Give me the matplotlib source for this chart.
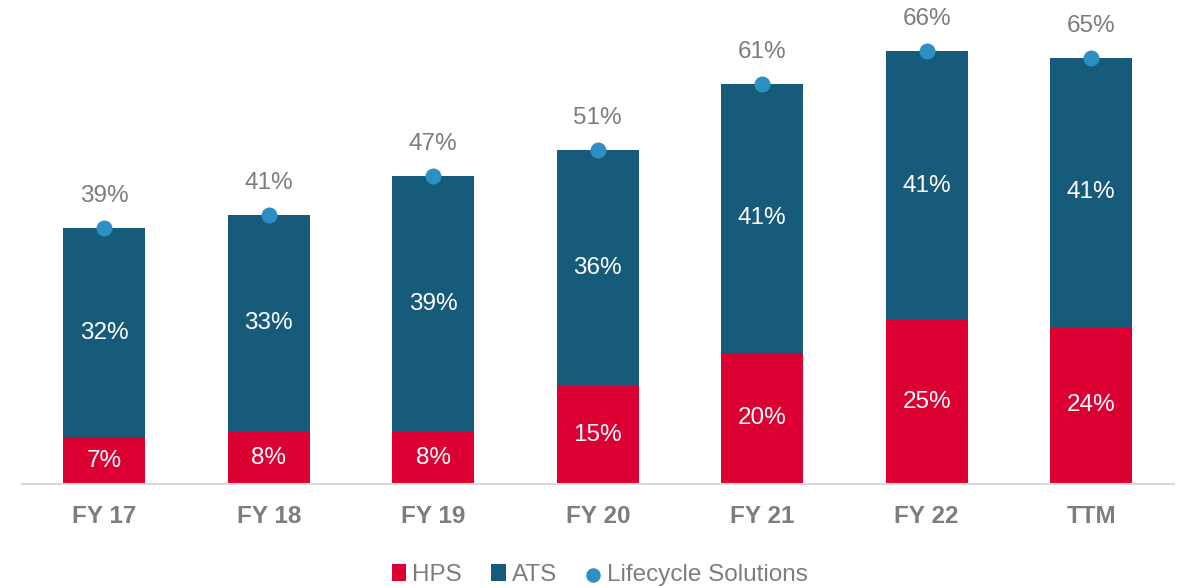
import numpy as np
import matplotlib.pyplot as plt

# data
years = ['FY 17', 'FY 18', 'FY 19', 'FY 20', 'FY 21', 'FY 22', 'TTM']
hps = [7, 8, 8, 15, 20, 25, 24]
ats = [32, 33, 39, 36, 41, 41, 41]
lifecycle = [39, 41, 47, 51, 61, 66, 65]

red = '#DC0032'
blue = '#175B7A'
dot = '#2E8FC4'
gray = '#7A7F78'

plt.rcParams['font.family'] = ['Liberation Sans', 'DejaVu Sans']

fig = plt.figure(figsize=(11.85, 5.88), dpi=100)
ax = fig.add_axes([22/1185, 104/588, 1151.5/1185, 484/588])

x = np.arange(len(years))
b1 = ax.bar(x, hps, width=0.5, color=red, label='HPS')
b2 = ax.bar(x, ats, width=0.5, bottom=hps, color=blue, label='ATS')
sc = ax.scatter(x, lifecycle, s=110, color=dot, zorder=3, label='Lifecycle Solutions')

for i in range(len(years)):
    ax.text(x[i], hps[i] / 2, f'{hps[i]}%', ha='center', va='center',
            color='white', fontsize=17.5)
    ax.text(x[i], hps[i] + ats[i] / 2, f'{ats[i]}%', ha='center', va='center',
            color='white', fontsize=17.5)
    ax.annotate(f'{lifecycle[i]}%', (x[i], lifecycle[i]), xytext=(0, 23),
                textcoords='offset points', ha='center', va='center',
                color=gray, fontsize=17.5)

ax.set_xlim(-0.5, len(years) - 0.5)
ax.set_ylim(0, 73.8)
ax.set_yticks([])
ax.set_xticks(x)
ax.set_xticklabels(years, fontsize=17.5, fontweight='bold', color=gray)
ax.tick_params(axis='x', length=0, pad=15)
for s in ['top', 'right', 'left']:
    ax.spines[s].set_visible(False)
ax.spines['bottom'].set_color('#D9D9D9')
ax.spines['bottom'].set_linewidth(1.5)

leg = fig.legend([b1, b2, sc], ['HPS', 'ATS', 'Lifecycle Solutions'],
                 loc='lower center', bbox_to_anchor=(0.506, -0.034), ncol=3,
                 frameon=False, fontsize=17.5, handlelength=0.6, handletextpad=0.25,
                 columnspacing=1.2, markerscale=0.9)
for t in leg.get_texts():
    t.set_color(gray)

fig.savefig('out.png', dpi=100)
